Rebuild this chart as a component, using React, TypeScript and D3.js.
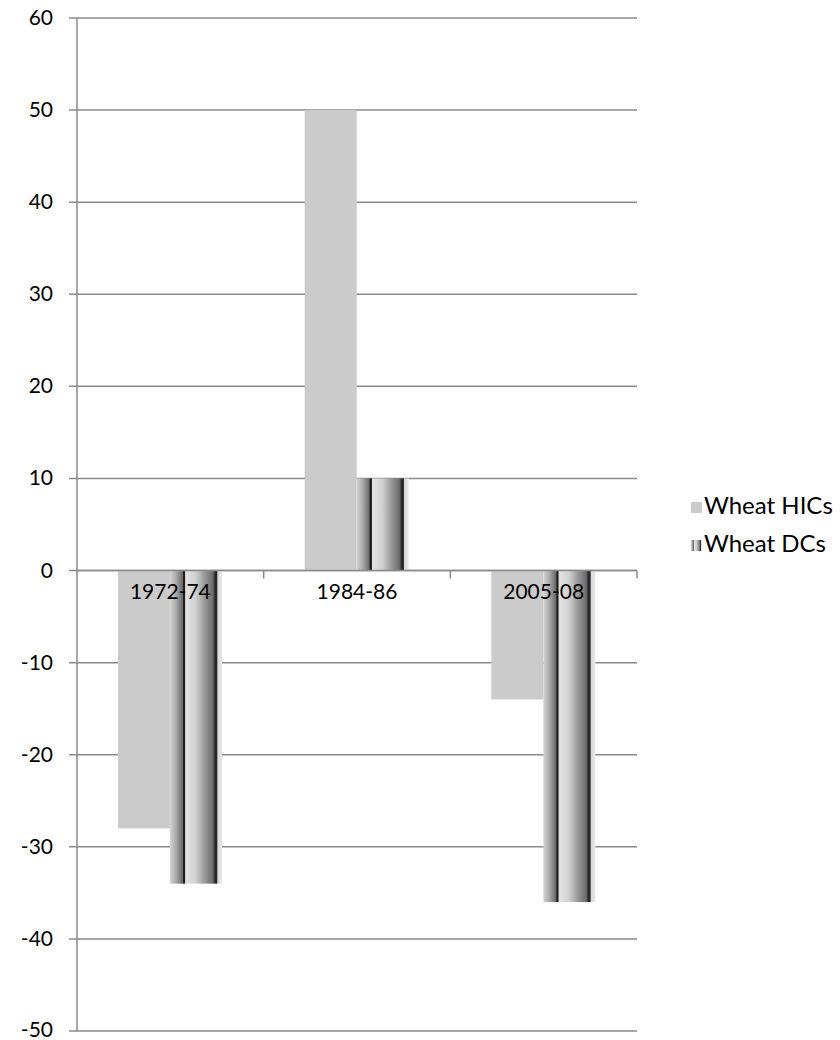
import React from 'react';
import * as d3 from 'd3';

const categories = ['1972-74', '1984-86', '2005-08'];
const seriesNames = ['Wheat HICs', 'Wheat DCs'];
const hicValues = [-28, 50, -14];
const dcValues = [-34, 10, -36];
const yTicks = [60, 50, 40, 30, 20, 10, 0, -10, -20, -30, -40, -50];

const W = 840;
const H = 1040;
const left = 77;
const right = 637;
const top = 18;
const bottom = 1031;
const font = 'Lato, "Open Sans", sans-serif';
const gridColor = '#8a8a8a';

const App: React.FC = () => {
  const y = d3.scaleLinear().domain([-50, 60]).range([bottom, top]);
  const x0 = d3.scaleBand<string>().domain(categories).range([left, right]).padding(0);
  const x1 = d3.scaleBand<string>().domain(seriesNames).range([41, 145]).padding(0);
  const series = [hicValues, dcValues];
  const y0 = y(0);

  return (
    <svg width={W} height={H} style={{ position: 'absolute', left: 0, top: 0 }}>
      <defs>
        <linearGradient id="stripes" x1="0" x2="1" y1="0" y2="0">
          <stop offset="0" stopColor="#d4d4d4" />
          <stop offset="0.12" stopColor="#a8a8a8" />
          <stop offset="0.24" stopColor="#6a6a6a" />
          <stop offset="0.26" stopColor="#1e1e1e" />
          <stop offset="0.285" stopColor="#1e1e1e" />
          <stop offset="0.3" stopColor="#e4e4e4" />
          <stop offset="0.5" stopColor="#cfcfcf" />
          <stop offset="0.66" stopColor="#9a9a9a" />
          <stop offset="0.82" stopColor="#6e6e6e" />
          <stop offset="0.87" stopColor="#262626" />
          <stop offset="0.9" stopColor="#262626" />
          <stop offset="0.92" stopColor="#d8d8d8" />
          <stop offset="1" stopColor="#e8e8e8" />
        </linearGradient>
      </defs>

      {/* gridlines + y labels */}
      {yTicks.map((t) => (
        <g key={t}>
          <line x1={left - 8} x2={right} y1={y(t)} y2={y(t)} stroke={gridColor} strokeWidth={1.5} />
          <text x={53} y={Math.min(y(t) + 7, H - 3)} textAnchor="end" fontFamily={font} fontSize={21} fill="#000">
            {t}
          </text>
        </g>
      ))}

      {/* bars */}
      {categories.map((c, i) => (
        <g key={c} transform={`translate(${x0(c)},0)`}>
          {series.map((vals, s) => {
            const v = vals[i];
            return (
              <rect
                key={s}
                x={x1(seriesNames[s])}
                width={x1.bandwidth()}
                y={Math.min(y(v), y0)}
                height={Math.abs(y(v) - y0)}
                fill={s === 0 ? '#cbcbcb' : 'url(#stripes)'}
              />
            );
          })}
        </g>
      ))}

      {/* axes */}
      <line x1={left} x2={left} y1={top} y2={bottom} stroke={gridColor} strokeWidth={1.5} />
      <line x1={left} x2={right} y1={y0} y2={y0} stroke={gridColor} strokeWidth={1.5} />
      {categories.map((c) => (
        <line key={c} x1={x0(c)! + x0.bandwidth()} x2={x0(c)! + x0.bandwidth()} y1={y0} y2={y0 + 8} stroke={gridColor} strokeWidth={1.5} />
      ))}
      {categories.map((c) => (
        <text key={c} x={x0(c)! + x0.bandwidth() / 2} y={y0 + 28} textAnchor="middle" fontFamily={font} fontSize={21} fill="#000">
          {c}
        </text>
      ))}

      {/* legend */}
      {seriesNames.map((n, i) => (
        <g key={n} transform={`translate(691,${502 + i * 38})`}>
          <rect width={11} height={11} fill={i === 0 ? '#cbcbcb' : 'url(#stripes)'} />
          <text x={13} y={12} fontFamily={font} fontSize={24} fill="#000">
            {n}
          </text>
        </g>
      ))}
    </svg>
  );
};

export default App;
